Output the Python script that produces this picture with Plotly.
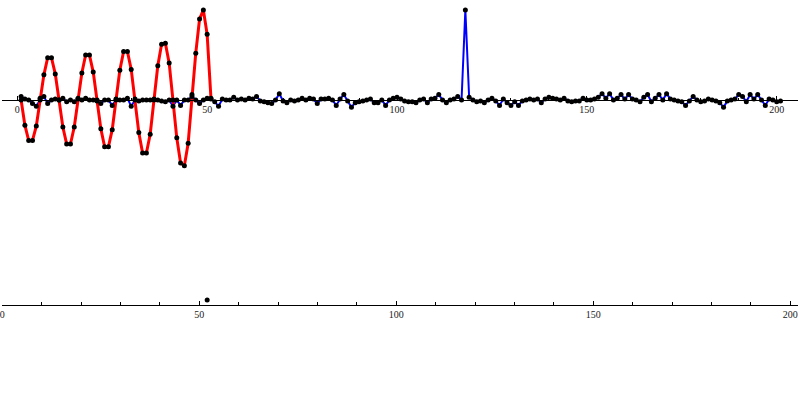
import plotly.graph_objects as go

# ---------------- data ----------------
red_x = list(range(1, 52))
red_y = [0, -0.28, -0.45, -0.45, -0.29, 0.02, 0.28, 0.47, 0.47, 0.29,
         0, -0.30, -0.49, -0.49, -0.30, 0.02, 0.30, 0.50, 0.50, 0.31,
         0, -0.32, -0.52, -0.52, -0.33, 0.01, 0.33, 0.54, 0.54, 0.34,
         0.01, -0.36, -0.59, -0.59, -0.38, 0.01, 0.38, 0.62, 0.63, 0.41,
         0.0, -0.42, -0.70, -0.73, -0.48, 0.06, 0.52, 0.90, 1.00, 0.73,
         0.02]

blue_x = list(range(1, 202))
blue_y = [
    0.04, 0.01, 0.00, -0.04, -0.07, 0.00, 0.04, -0.04, 0.00, 0.01,
    0.00, 0.02, -0.02, 0.00, -0.02, 0.01, 0.00, 0.02, 0.00, 0.00,
    -0.01, -0.04, 0.00, 0.00, -0.06, 0.00, 0.00, 0.00, 0.02, -0.07,
    0.00, -0.01, 0.00, 0.00, 0.00, 0.00, 0.00, -0.01, -0.02, 0.00,
    -0.07, 0.00, -0.06, 0.00, 0.00, 0.04, 0.00, -0.04, 0.00, 0.02,
    0.01, -0.02, -0.07, 0.01, 0.00, 0.00, 0.03, 0.00, 0.01, 0.00,
    0.02, 0.01, 0.04, -0.01, -0.02, -0.03, -0.04, 0.00, 0.07, -0.01,
    -0.03, 0.00, -0.01, 0.00, 0.02, 0.00, 0.02, 0.01, -0.04, 0.01,
    0.01, 0.02, 0.00, -0.06, 0.01, 0.06, -0.01, -0.08, -0.03, -0.02,
    -0.01, 0.00, 0.01, -0.03, -0.03, 0.00, -0.06, 0.00, 0.02, 0.03,
    0.01, -0.01, -0.02, -0.02, -0.03, 0.00, 0.01, -0.03, 0.01, 0.02,
    0.06, 0.00, -0.03, 0.00, 0.01, 0.04, 0.00, 1.00, 0.03, 0.00,
    -0.02, -0.01, -0.03, 0.00, 0.02, -0.01, -0.06, 0.01, -0.03, -0.06,
    -0.02, -0.06, -0.01, 0.00, 0.01, 0.00, 0.01, -0.03, 0.01, 0.03,
    0.02, 0.01, 0.00, 0.02, -0.01, -0.02, -0.01, -0.01, 0.02, 0.00,
    0.00, 0.01, 0.03, 0.07, 0.02, 0.07, 0.00, 0.02, 0.06, 0.01,
    0.06, 0.01, 0.00, -0.02, 0.03, 0.06, -0.02, 0.02, 0.06, 0.00,
    0.07, 0.01, 0.00, -0.01, -0.02, -0.06, -0.01, 0.04, 0.00, -0.02,
    -0.01, 0.01, 0.00, -0.01, -0.03, -0.08, -0.01, 0.00, 0.01, 0.06,
    0.04, -0.02, 0.06, 0.01, 0.06, 0.00, -0.06, 0.01, 0.00, -0.02,
    -0.01]

found_x = [52]
found_y = [1]

major_ticks = [0, 50, 100, 150, 200]

# ---------------- layout geometry ----------------
W, H = 800, 408
top_px0, top_px_per = 17.3, 3.797          # pixel of x=0, px per unit
top_left, top_right = 1.7, 798.0
top_yrange = [-100 / 90, 100 / 90]
top_dom = [1 - 200 / H, 1.0]
zero_pos = top_dom[0] + (0 - top_yrange[0]) / (top_yrange[1] - top_yrange[0]) * (top_dom[1] - top_dom[0])

bot_px0, bot_px_per = 2.3, 3.94
bot_right = 798.0

fig = go.Figure()

# lines
fig.add_trace(go.Scatter(x=blue_x, y=blue_y, mode="lines",
                         line=dict(color="rgb(0,0,255)", width=2),
                         xaxis="x", yaxis="y", showlegend=False, hoverinfo="skip"))
fig.add_trace(go.Scatter(x=red_x, y=red_y, mode="lines",
                         line=dict(color="rgb(255,0,0)", width=3),
                         xaxis="x", yaxis="y", showlegend=False, hoverinfo="skip"))
# points
fig.add_trace(go.Scatter(x=blue_x, y=blue_y, mode="markers",
                         marker=dict(color="black", size=5),
                         xaxis="x", yaxis="y", showlegend=False))
fig.add_trace(go.Scatter(x=red_x, y=red_y, mode="markers",
                         marker=dict(color="black", size=5),
                         xaxis="x", yaxis="y", showlegend=False))
# bottom plot point
fig.add_trace(go.Scatter(x=found_x, y=found_y, mode="markers",
                         marker=dict(color="black", size=5),
                         xaxis="x2", yaxis="y2", showlegend=False))

tickfont = dict(family="Liberation Serif, Times New Roman, serif", size=10, color="#222")

fig.update_layout(
    width=W, height=H,
    margin=dict(l=0, r=0, t=0, b=0, autoexpand=False),
    paper_bgcolor="white", plot_bgcolor="white",
    xaxis=dict(
        domain=[top_left / W, top_right / W],
        range=[(top_left - top_px0) / top_px_per, (top_right - top_px0) / top_px_per],
        anchor="free", position=zero_pos, automargin=False,
        showline=True, linecolor="black", linewidth=1,
        ticks="inside", ticklen=4, tickcolor="black", tickwidth=1,
        tickvals=major_ticks, ticktext=[str(t) for t in major_ticks],
        tickfont=tickfont, ticklabeloverflow="allow",
        minor=dict(dtick=10, tick0=0, ticks="inside", ticklen=2.5, tickcolor="black", showgrid=False),
        showgrid=False, zeroline=False,
    ),
    yaxis=dict(domain=top_dom, range=top_yrange, visible=False, automargin=False,
               showgrid=False, zeroline=False),
    xaxis2=dict(
        domain=[bot_px0 / W, bot_right / W],
        range=[0, (bot_right - bot_px0) / bot_px_per],
        anchor="y2", side="bottom", automargin=False,
        showline=True, linecolor="black", linewidth=1,
        ticks="inside", ticklen=4, tickcolor="black", tickwidth=1,
        tickvals=major_ticks, ticktext=[str(t) for t in major_ticks],
        tickfont=tickfont, ticklabeloverflow="allow",
        minor=dict(dtick=10, tick0=0, ticks="inside", ticklen=2.7, tickcolor="black", showgrid=False),
        showgrid=False, zeroline=False,
    ),
    yaxis2=dict(domain=[1 - 305 / H, 1 - 290 / H], range=[0, 3], visible=False, automargin=False,
                showgrid=False, zeroline=False),
)

fig.write_html(
    "out.html",
    config={"displayModeBar": False},
    post_script="document.body.style.margin='0';document.body.style.padding='0';"
                "document.body.style.overflow='hidden';",
)
